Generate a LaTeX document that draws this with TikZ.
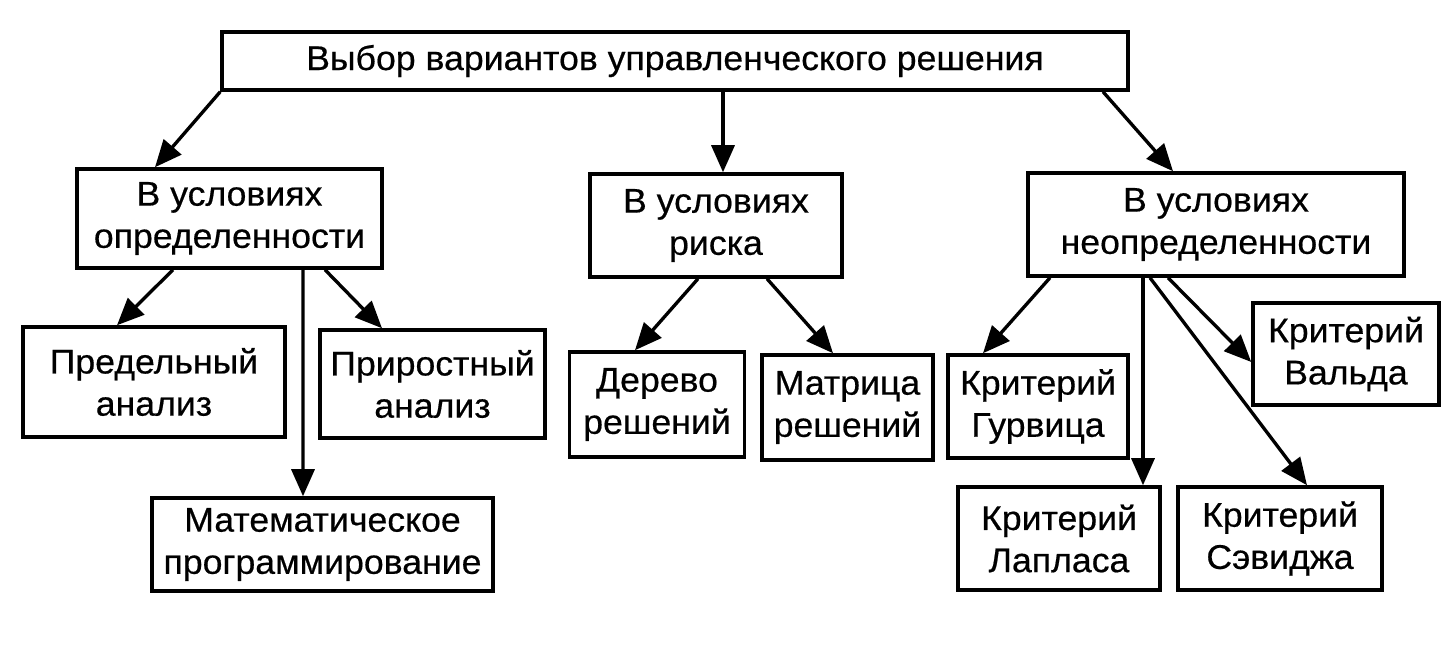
\documentclass[tikz,border=0pt]{standalone}
\usepackage{fontspec}
\setmainfont{Liberation Sans}[FakeStretch=1.04,FakeBold=0.5]
\usepackage{tikz}
\usetikzlibrary{arrows.meta,calc}
\tikzset{% change default arrow tips
    >={Triangle[length=5.4mm,width=4.6mm]}
}
\tikzset{% framed boxes, sizes given in pixels of the scan
    box/.style 2 args={draw, line width=2pt, align=center, inner sep=0pt,
        minimum width=#1*0.2mm, minimum height=#2*0.2mm,
        font=\fontsize{19.5}{24}\selectfont}
}

\begin{document}
\begin{tikzpicture}[x=0.2mm,y=-0.2mm,line width=1.9pt]
    		\useasboundingbox (0,0) rectangle (1449,662);
    	
    		% root
    		\node[box={906}{58}] (top) at (675,61) {Выбор вариантов управленческого решения};
    	
    		% conditions
    		\node[box={305}{99}] (opred) at (229.5,218.5) {В условиях\\определенности};
    		\node[box={252}{103}] (risk) at (716,225.5) {В условиях\\риска};
    		\node[box={376}{103}] (neopred) at (1216,224.5) {В условиях\\неопределенности};
    	
    		% methods
    		\node[box={262}{110}] (pred) at (154,382) {Предельный\\анализ};
    		\node[box={225}{108}] (prir) at (432.5,384) {Приростный\\анализ};
    		\node[box={341}{93}] (matem) at (322.5,544.5) {Математическое\\программирование};
    		\node[box={175}{105}] (derevo) at (657,404.5) {Дерево\\решений};
    		\node[box={171}{105}] (matr) at (847.5,407.5) {Матрица\\решений};
    		\node[box={180}{103}] (gurv) at (1038,406.5) {Критерий\\Гурвица};
    		\node[box={186}{102}] (vald) at (1346,354) {Критерий\\Вальда};
    		\node[box={202}{103}] (lapl) at (1059,538.5) {Критерий\\Лапласа};
    		\node[box={204}{103}] (sav) at (1280,538.5) {Критерий\\Сэвиджа};
    	
    		% arrows from the root
        	\draw[->] (top.south west) -- ($(opred.north)+(-74.5,0)$);
        	\draw[->] ($(top.south)+(48,0)$) -- ($(risk.north)+(7,0)$);
        	\draw[->] ($(top.south)+(428,0)$) -- ($(neopred.north)+(-43,0)$);
    	
    		% arrows to the methods
        	\draw[->] ($(opred.south)+(-56.5,0)$) -- ($(pred.north)+(-37,0)$);
        	\draw[->] ($(opred.south)+(73.5,0)$) -- ($(matem.north)+(-19.5,0)$);
        	\draw[->] ($(opred.south)+(95.5,0)$) -- ($(prir.north)+(-50.5,0)$);
        	\draw[->] ($(risk.south)+(-18,0)$) -- ($(derevo.north)+(-22,0)$);
        	\draw[->] ($(risk.south)+(51,0)$) -- ($(matr.north)+(-14.5,0)$);
        	\draw[->] ($(neopred.south)+(-166,0)$) -- ($(gurv.north)+(-55,0)$);
        	\draw[->] ($(neopred.south)+(-73,0)$) -- ($(lapl.north)+(84,0)$);
        	\draw[->] ($(neopred.south)+(-66,0)$) -- ($(sav.north)+(27,0)$);
        	\draw[->] ($(neopred.south)+(-48,0)$) -- ($(vald.west)+(0,8)$);
\end{tikzpicture}
\end{document}
